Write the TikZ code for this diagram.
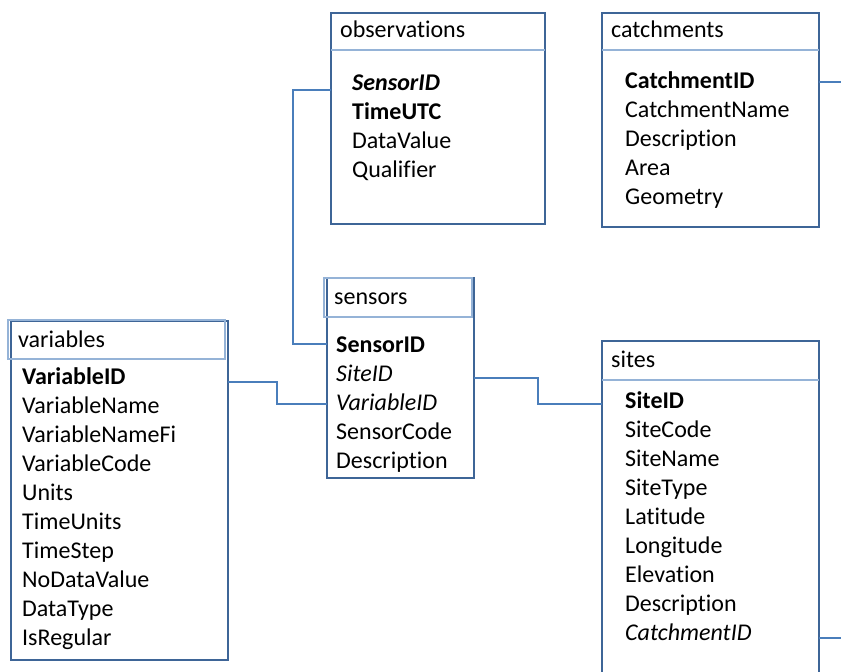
\documentclass[tikz,border=0pt]{standalone}
\usepackage{fontspec}
\setmainfont[Ligatures=CommonOff]{Carlito}
\definecolor{boxblue}{HTML}{3E6597}
\definecolor{linkblue}{HTML}{4A7EBB}
\definecolor{hdrblue}{HTML}{95B3D7}
\begin{document}
\begin{tikzpicture}[x=1pt,y=-1pt,
 tbl/.style={draw=boxblue, line width=2.8pt, fill=white, inner sep=0pt, outer sep=0pt, anchor=north west},
 fld/.style={anchor=base west, inner sep=0pt, font=\fontsize{24}{28}\selectfont},
 hframe/.style={draw=hdrblue, line width=1.2pt},
 hline/.style={draw=hdrblue, line width=1.3pt},
 link/.style={draw=linkblue, line width=2.8pt}]
\useasboundingbox (0,0) rectangle (841,672);
\clip (0,0) rectangle (841,672);

% tables
\node[tbl, minimum width=214pt, minimum height=211pt] (obs) at (331,13) {};
\node[tbl, minimum width=217pt, minimum height=214pt] (catch) at (602,13) {};
\node[tbl, minimum width=147pt, minimum height=200pt] (sens) at (327,278) {};
\node[tbl, minimum width=217pt, minimum height=339pt] (var) at (11,321) {};
\node[tbl, minimum width=217pt, minimum height=400pt] (sites) at (602,341) {};

% free ends
\coordinate (e1) at (841,82);
\coordinate (e2) at (841,638);

% connectors
\draw[link] (obs.west |- 0,90) -| (293,344) -- (sens.west |- 0,344);
\draw[link] (var.east |- 0,382) -| (277,404) -- (sens.west |- 0,404);
\draw[link] (sens.east |- 0,378) -| (538,404) -- (sites.west |- 0,404);
\draw[link] (catch.east |- e1) -- (e1);
\draw[link] (sites.east |- e2) -- (e2);

% header separators
\draw[hline] (obs.west |- 0,50) -- (obs.east |- 0,50);
\draw[hline] (catch.west |- 0,50) -- (catch.east |- 0,50);
\draw[hline] (sites.west |- 0,380) -- (sites.east |- 0,380);
\draw[hframe] (8,320) rectangle (225,359);
\draw[hframe] (324,278) rectangle (472,317);

% observations
\node[fld] (obsH) at (340,37) {observations};
\node[fld] (o1) at (352,90.5) {\textbf{\textit{SensorID}}};
\node[fld] (o2) at (352,119.5) {\textbf{TimeUTC}};
\node[fld] (o3) at (352,148.5) {DataValue};
\node[fld] (o4) at (352,177.5) {Qualifier};

% catchments
\node[fld] (catchH) at (611,37) {catchments};
\node[fld] (c1) at (625,88.5) {\textbf{CatchmentID}};
\node[fld] (c2) at (625,117.5) {CatchmentName};
\node[fld] (c3) at (625,146.5) {Description};
\node[fld] (c4) at (625,175.5) {Area};
\node[fld] (c5) at (625,204.5) {Geometry};

% sensors
\node[fld] (sensH) at (334,304) {sensors};
\node[fld] (s1) at (336,352) {\textbf{SensorID}};
\node[fld] (s2) at (336,381) {\textit{SiteID}};
\node[fld] (s3) at (336,410) {\textit{VariableID}};
\node[fld] (s4) at (336,439) {SensorCode};
\node[fld] (s5) at (336,468) {Description};

% variables
\node[fld] (varH) at (18,347) {variables};
\node[fld] (v1) at (22,384) {\textbf{VariableID}};
\node[fld] (v2) at (22,413) {VariableName};
\node[fld] (v3) at (22,442) {VariableNameFi};
\node[fld] (v4) at (22,471) {VariableCode};
\node[fld] (v5) at (22,500) {Units};
\node[fld] (v6) at (22,529) {TimeUnits};
\node[fld] (v7) at (22,558) {TimeStep};
\node[fld] (v8) at (22,587) {NoDataValue};
\node[fld] (v9) at (22,616) {DataType};
\node[fld] (v10) at (22,645) {IsRegular};

% sites
\node[fld] (sitesH) at (611,367) {sites};
\node[fld] (t1) at (625,408) {\textbf{SiteID}};
\node[fld] (t2) at (625,437) {SiteCode};
\node[fld] (t3) at (625,466) {SiteName};
\node[fld] (t4) at (625,495) {SiteType};
\node[fld] (t5) at (625,524) {Latitude};
\node[fld] (t6) at (625,553) {Longitude};
\node[fld] (t7) at (625,582) {Elevation};
\node[fld] (t8) at (625,611) {Description};
\node[fld] (t9) at (625,640) {\textit{CatchmentID}};
\end{tikzpicture}
\end{document}
